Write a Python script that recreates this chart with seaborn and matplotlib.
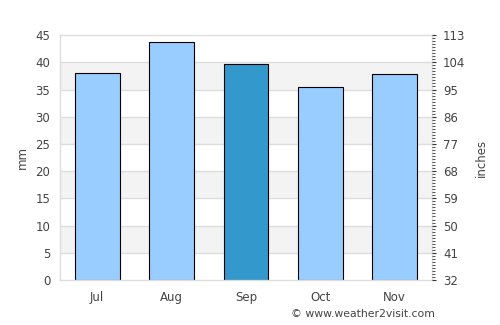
import numpy as np
import pandas as pd
import matplotlib
matplotlib.use("Agg")
import matplotlib.pyplot as plt
import seaborn as sns
from matplotlib.ticker import MultipleLocator

# Data
months = ["Jul", "Aug", "Sep", "Oct", "Nov"]
rain_mm = [38.0, 43.7, 39.6, 35.4, 37.8]
highlight = "Sep"
right_ticks = [32, 41, 50, 59, 68, 77, 86, 95, 104, 113]

df = pd.DataFrame({"month": months, "mm": rain_mm})
colors = ["#3399cc" if m == highlight else "#99ccff" for m in months]

sns.set_style("white")
plt.rcParams["font.family"] = ["DejaVu Sans"]
text_col = "#444444"
fs = 8.5

fig = plt.figure(figsize=(5, 3.25), dpi=100)
ax = fig.add_axes([0.12, 0.1385, 0.744, 0.7535])

# alternating bands + grid lines
for lo in range(5, 45, 10):
    ax.axhspan(lo, lo + 5, color="#f3f3f3", zorder=0, lw=0)
for y in range(5, 45, 5):
    ax.axhline(y, color="#dddddd", lw=1, zorder=0.5)

sns.barplot(data=df, x="month", y="mm", hue="month", palette=colors,
            legend=False, width=0.6, edgecolor="black", linewidth=0.8,
            saturation=1, ax=ax, zorder=2)

ax.set_ylim(0, 45)
ax.set_xlim(-0.5, 4.5)
ax.yaxis.set_major_locator(MultipleLocator(5))
ax.set_xlabel("")
ax.set_ylabel("mm", color=text_col, fontsize=fs, labelpad=5)
ax.tick_params(axis="y", length=0, labelsize=fs, colors=text_col, pad=7)
ax.tick_params(axis="x", length=0, labelsize=fs, colors=text_col, pad=8)
for s in ax.spines.values():
    s.set_color("#dddddd")
    s.set_linewidth(1)

# right axis
ax2 = ax.twinx()
ax2.set_ylim(32, 113)
ax2.set_yticks(right_ticks)
ax2.yaxis.set_minor_locator(MultipleLocator(1))
ax2.tick_params(axis="y", which="major", length=3, width=0.8, colors="#333333",
                labelsize=fs, labelcolor=text_col, pad=5)
ax2.tick_params(axis="y", which="minor", length=2, width=0.6, colors="#333333")
ax2.set_ylabel("inches", color=text_col, fontsize=fs, labelpad=7)
for s in ax2.spines.values():
    s.set_visible(False)

fig.text(0.87, 0.018, "\u00a9 www.weather2visit.com", ha="right", va="bottom",
         fontsize=7.8, color=text_col)

fig.savefig("out.png", dpi=100)
